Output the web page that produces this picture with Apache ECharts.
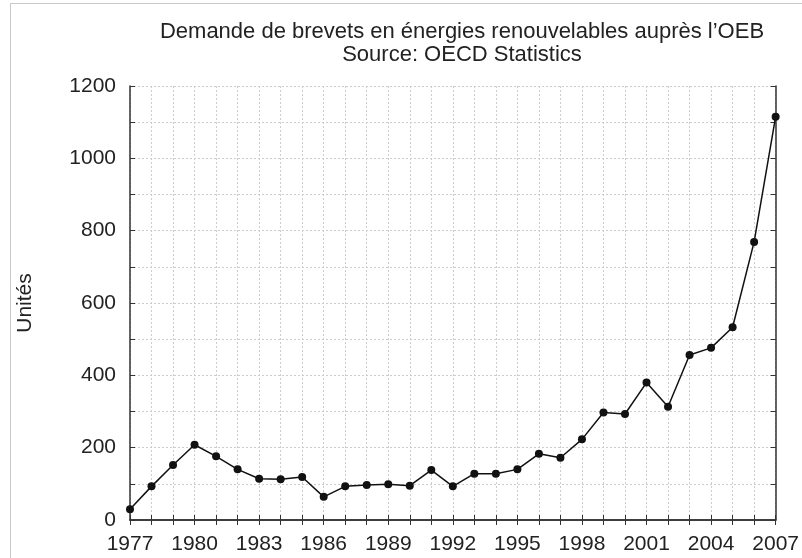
<!DOCTYPE html>
<html><head><meta charset="utf-8">
<script src="https://cdn.jsdelivr.net/npm/echarts@6/dist/echarts.min.js"></script>
<style>html,body{margin:0;padding:0;background:#fff}#c{width:802px;height:558px}</style>
</head><body><div id="c"></div>
<script>
const years = [1977,1978,1979,1980,1981,1982,1983,1984,1985,1986,1987,1988,1989,1990,1991,1992,1993,1994,1995,1996,1997,1998,1999,2000,2001,2002,2003,2004,2005,2006,2007];
const values = [30,93,152,208,176,140,114,113,119,64,93,97,99,95,138,93,128,128,140,183,172,223,297,293,380,313,456,476,533,769,1115];
const titleLines = ["Demande de brevets en énergies renouvelables auprès l’OEB","Source: OECD Statistics"];
const yName = "Unités";

const FONT = '"Liberation Sans", Arial, sans-serif';
const chart = echarts.init(document.getElementById('c'), null, {renderer:'canvas'});
const gridLine = {show:true, lineStyle:{color:'#cccccc', type:[2,2], width:1}};
const axisLine = {show:true, lineStyle:{color:'#333', width:1.5}};
const tick = {show:true, inside:true, length:5, lineStyle:{color:'#333', width:1}};
chart.setOption({
  animation:false,
  backgroundColor:'#fff',
  graphic:[
    {type:'line', shape:{x1:10.5, y1:3.5, x2:802, y2:3.5}, style:{stroke:'#c8c8c8', lineWidth:1}, silent:true},
    {type:'line', shape:{x1:10.5, y1:3.5, x2:10.5, y2:558}, style:{stroke:'#c8c8c8', lineWidth:1}, silent:true}
  ],
  title:{text:titleLines.join('\n'), left:457, textAlign:'center', top:15,
    textStyle:{fontFamily:FONT, fontSize:22, fontWeight:'normal', color:'#222', lineHeight:23}},
  grid:{left:130, right:26, top:86, bottom:38},
  xAxis:[{type:'value', min:1977, max:2007, interval:1, position:'bottom',
      axisLine:axisLine, axisTick:tick,
      axisLabel:{fontFamily:FONT, fontSize:21, color:'#222', margin:14,
        formatter:v => ((v-1977)%3===0 ? String(v) : '')},
      splitLine:gridLine},
    {type:'value', min:1977, max:2007, interval:1, position:'top',
      axisLine:axisLine, axisTick:tick,
      axisLabel:{show:false}, splitLine:{show:false}}],
  yAxis:[{type:'value', min:0, max:1200, interval:100, position:'left',
      name:yName, nameLocation:'middle', nameGap:94, nameRotate:90,
      nameTextStyle:{fontFamily:FONT, fontSize:21, color:'#222'},
      axisLine:axisLine, axisTick:tick,
      axisLabel:{fontFamily:FONT, fontSize:21, color:'#222', margin:14,
        formatter:v => (v%200===0 ? String(v) : '')},
      splitLine:gridLine},
    {type:'value', min:0, max:1200, interval:100, position:'right',
      axisLine:axisLine, axisTick:tick,
      axisLabel:{show:false}, splitLine:{show:false}}],
  series:[{type:'line', data:years.map((y,i)=>[y, values[i]]),
    symbol:'circle', symbolSize:8, showAllSymbol:true,
    itemStyle:{color:'#111'}, lineStyle:{color:'#111', width:1.5}}]
});
</script></body></html>
